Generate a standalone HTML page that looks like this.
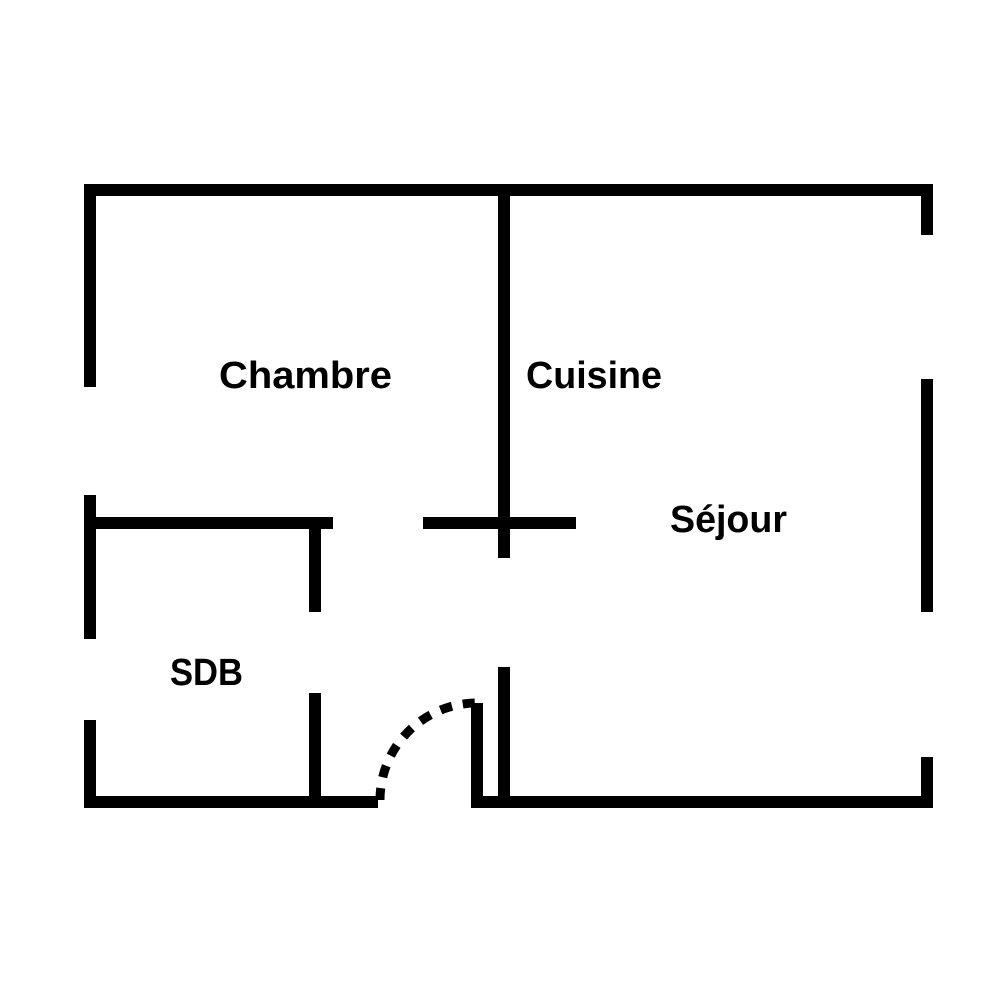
<!DOCTYPE html>
<html><head><style>body{margin:0;background:#fff}svg{display:block}</style></head>
<body>
<svg width="1000" height="1000" viewBox="0 0 1000 1000" xmlns="http://www.w3.org/2000/svg">
<g fill="#000">
<rect x="84" y="184" width="849" height="12"/>
<rect x="84" y="184" width="12" height="203"/>
<rect x="498" y="184" width="12" height="374"/>
<rect x="921" y="184" width="12" height="51"/>
<rect x="921" y="379" width="12" height="233"/>
<rect x="921" y="757" width="12" height="51"/>
<rect x="84" y="517" width="249" height="12"/>
<rect x="423" y="517" width="153" height="12"/>
<rect x="84" y="495" width="12" height="144"/>
<rect x="84" y="720" width="12" height="88"/>
<rect x="309" y="517" width="12" height="95"/>
<rect x="309" y="693" width="12" height="110"/>
<rect x="84" y="796" width="294" height="12"/>
<rect x="471" y="796" width="462" height="12"/>
<rect x="471" y="703" width="12" height="105"/>
<rect x="498" y="667" width="12" height="138"/>
</g>
<path d="M380 800 A97 97 0 0 1 477 703" fill="none" stroke="#000" stroke-width="9" stroke-dasharray="12 11"/>
<g font-family="Liberation Sans, sans-serif" font-weight="bold" font-size="38" fill="#000">
<text x="219" y="388" textLength="173" lengthAdjust="spacingAndGlyphs">Chambre</text>
<text x="526" y="388" textLength="136" lengthAdjust="spacingAndGlyphs">Cuisine</text>
<text x="670" y="532" textLength="117" lengthAdjust="spacingAndGlyphs">Séjour</text>
<text x="170" y="685" textLength="73" lengthAdjust="spacingAndGlyphs">SDB</text>
</g>
</svg>
</body></html>
